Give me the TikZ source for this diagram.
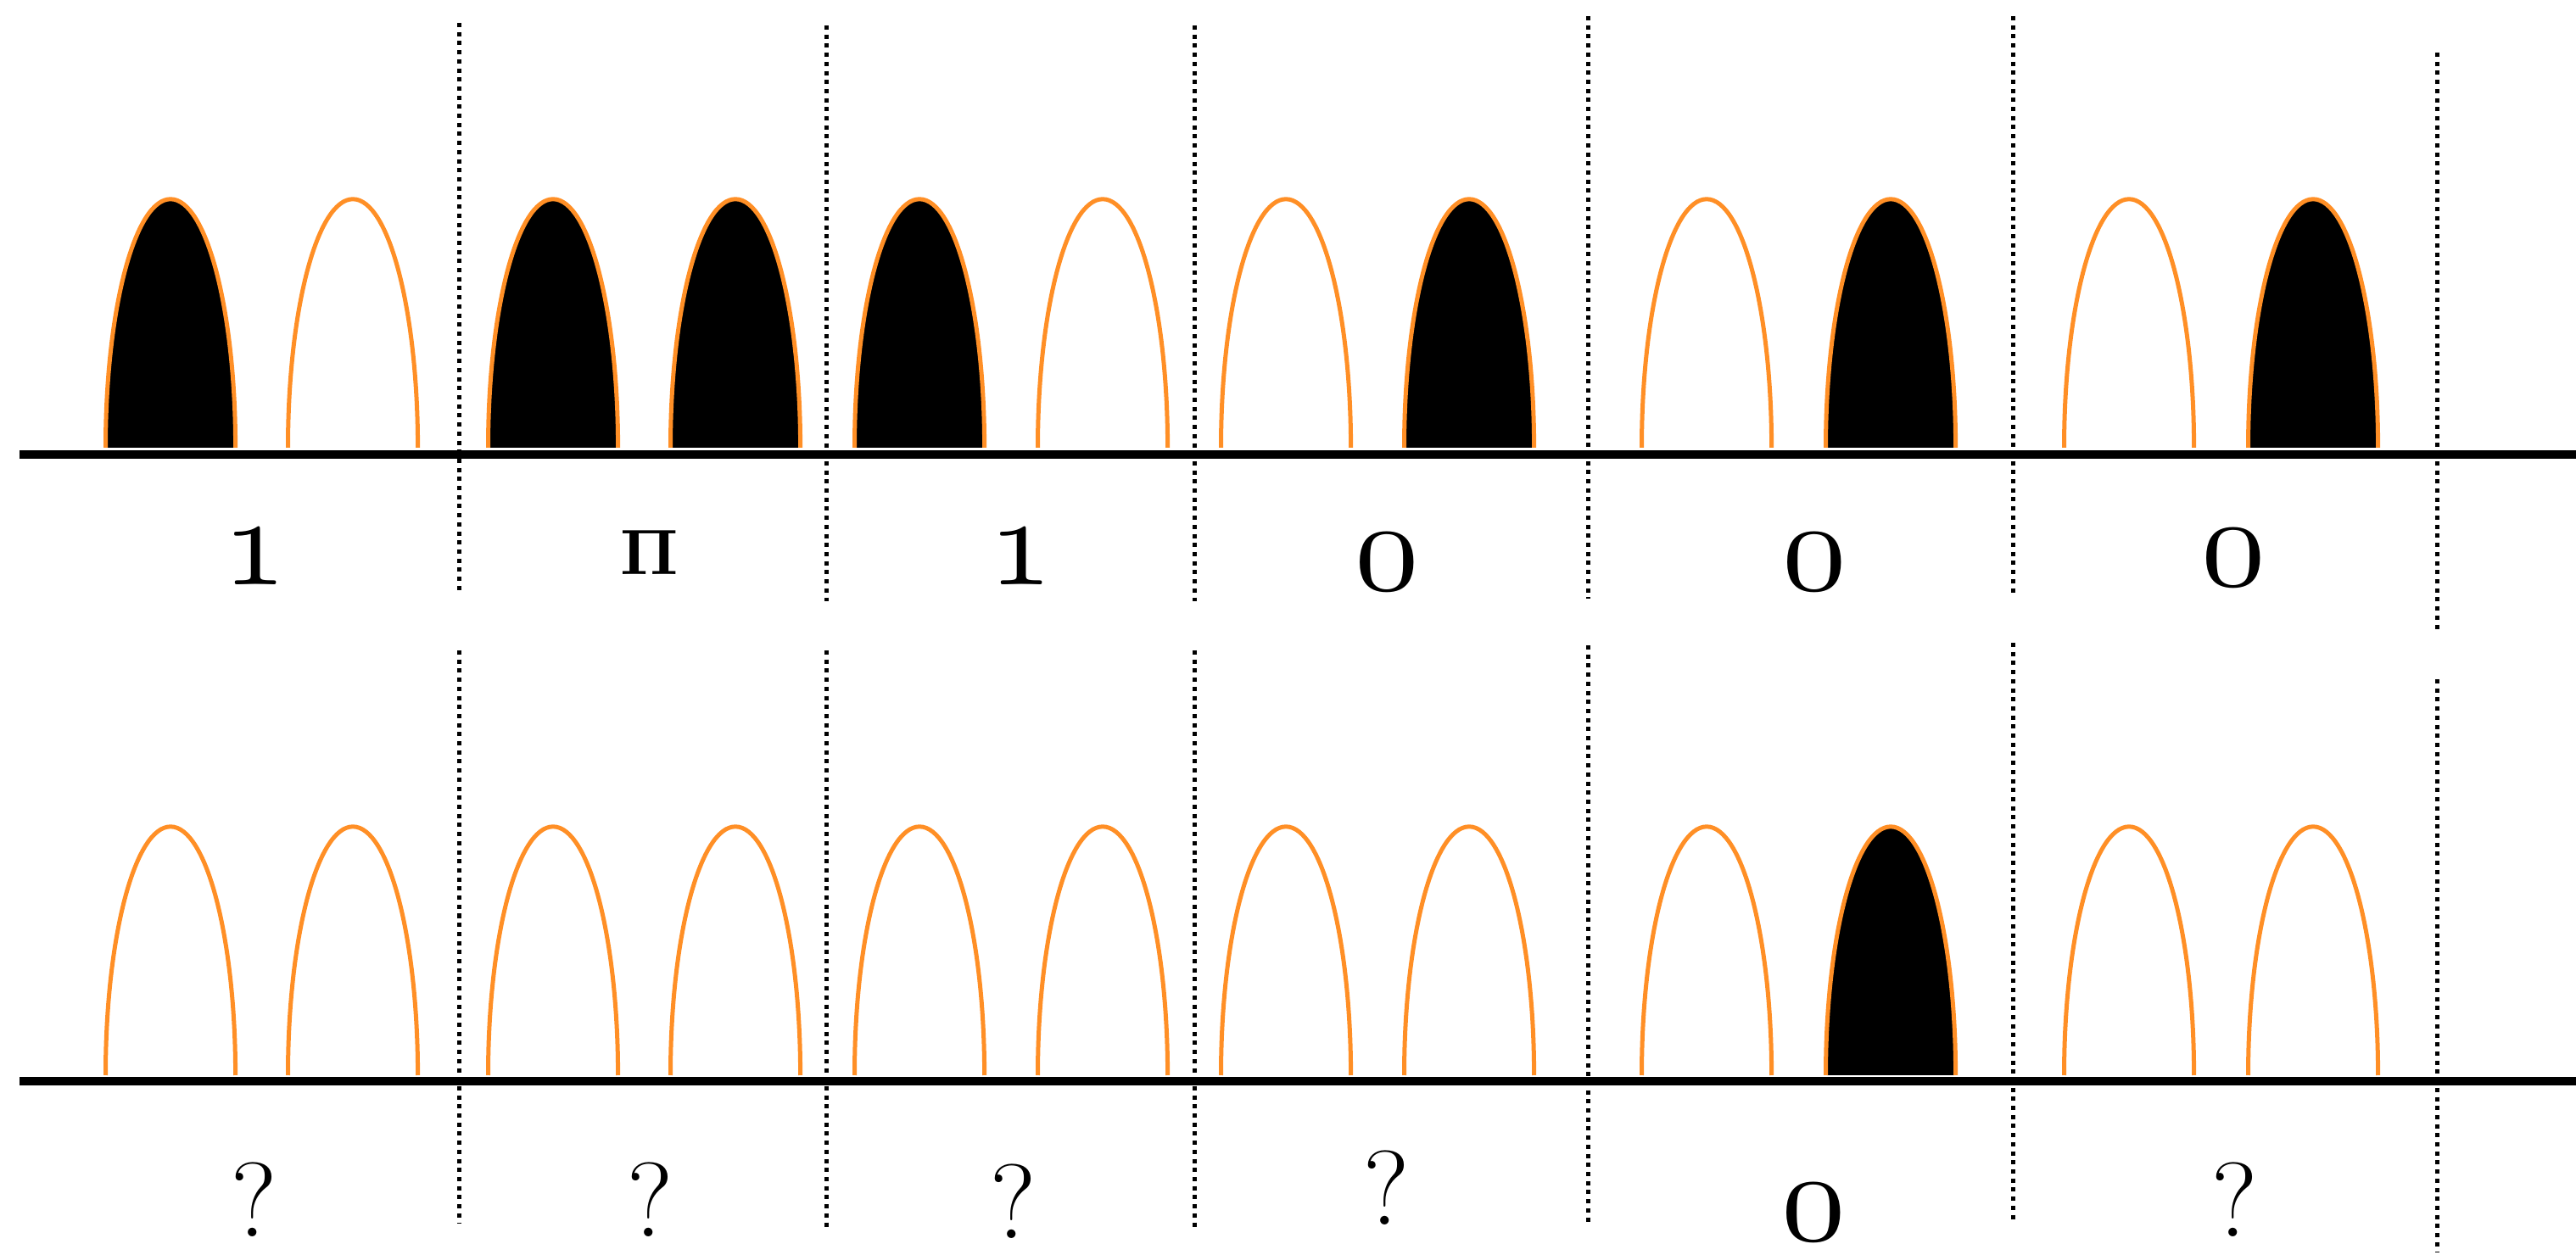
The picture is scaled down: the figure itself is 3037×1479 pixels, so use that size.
\documentclass[tikz,border=0pt]{standalone}
\definecolor{archorange}{RGB}{255,143,38}
\newcommand\osnum[1]{{\fontsize{10}{12}\usefont{OML}{cmm}{m}{it}#1}}
\tikzset{
  archopen/.style={draw=archorange, line width=0.05cm},
  archfilled/.style={draw=archorange, fill=black, line width=0.05cm},
  groundline/.style={draw=black, line width=0.1cm},
  sepline/.style={draw=black, line width=0.05cm, dash pattern=on 0.05cm off 0.057cm},
  digitlabel/.style={inner sep=0pt, scale=4.3},
  qlabel/.style={inner sep=0pt, font=\fontsize{35.5}{36}\selectfont},
  pilabel/.style={inner sep=0pt, font=\fontsize{10}{12}\selectfont, scale=2.16}
}
\begin{document}
\begin{tikzpicture}[x=0.01cm, y=0.01cm]
\useasboundingbox (0,0) rectangle (3037,1479);

% ground lines
\draw[groundline] (23,943) -- (3037,943);
\draw[groundline] (23,204) -- (3037,204);

% top row arches
\foreach \cx in {201,652,867,1084,1732,2229,2727}
  \filldraw[archfilled] (\cx-76.5,951) arc[start angle=180, end angle=0, x radius=0.765cm, y radius=2.93cm];
\foreach \cx in {416,1300,1516,2012,2510}
  \draw[archopen] (\cx-76.5,951) arc[start angle=180, end angle=0, x radius=0.765cm, y radius=2.93cm];

% bottom row arches
\foreach \cx in {2229}
  \filldraw[archfilled] (\cx-76.5,211) arc[start angle=180, end angle=0, x radius=0.765cm, y radius=2.93cm];
\foreach \cx in {201,416,652,867,1084,1300,1516,1732,2012,2510,2727}
  \draw[archopen] (\cx-76.5,211) arc[start angle=180, end angle=0, x radius=0.765cm, y radius=2.93cm];

% separators
\foreach \sx/\ya/\yb/\yc/\yd in {541/1452/778/712/36, 974/1449/770/712/30, 1408/1449/770/712/30, 1872/1460/773/718/36, 2373/1460/776/721/36, 2873/1417/733/678/3}{
  \draw[sepline] (\sx,\ya) -- (\sx,\yb);
  \draw[sepline] (\sx,\yc) -- (\sx,\yd);
}

% top labels
\node[digitlabel] (t1) at (300,822) {\osnum{1}};
\node[pilabel] (t2) at (766,828) {$\mathbf{\Pi}$};
\node[digitlabel] (t3) at (1203,822) {\osnum{1}};
\node[digitlabel] (t4) at (1635,816) {\osnum{0}};
\node[digitlabel] (t5) at (2139,816) {\osnum{0}};
\node[digitlabel] (t6) at (2633,821) {\osnum{0}};

% bottom labels
\node[qlabel] (b1) at (300,64) {?};
\node[qlabel] (b2) at (767,64) {?};
\node[qlabel] (b3) at (1195,62) {?};
\node[qlabel] (b4) at (1635,78) {?};
\node[digitlabel] (b5) at (2138,49) {\osnum{0}};
\node[qlabel] (b6) at (2634,64) {?};
\end{tikzpicture}
\end{document}
